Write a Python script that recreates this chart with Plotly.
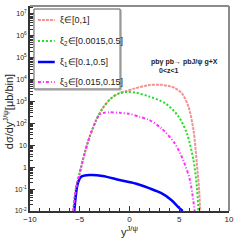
import plotly.graph_objects as go

# ---- data ----
x_all = [-5.65, -5.4, -5.0, -4.5, -4.0, -3.35, -2.7, -1.85, -1.0, -0.3, 0.6, 1.96, 3.0, 3.95, 4.6, 5.27, 5.93, 6.43, 6.77, 7.0, 7.1]
y_all = [0.01, 0.09, 0.55, 4.5, 25, 140, 490, 1400, 2400, 3000, 4000, 5600, 5800, 5100, 4000, 2350, 575, 50, 1.5, 0.09, 0.01]

x_xi2 = [-5.65, -5.4, -5.0, -4.5, -4.0, -3.35, -2.7, -1.85, -1.0, -0.2, 0.6, 1.96, 3.6, 4.95, 5.77, 6.43, 6.77, 6.93]
y_xi2 = [0.01, 0.09, 0.55, 4.5, 25, 140, 490, 1400, 2400, 2700, 2550, 1700, 830, 200, 35, 2.1, 0.13, 0.01]

x_xi1 = [-5.55, -5.2, -4.85, -4.0, -2.7, -1.0, 0.6, 1.96, 3.2, 4.2, 4.85, 5.35]
y_xi1 = [0.01, 0.18, 0.37, 0.44, 0.40, 0.26, 0.18, 0.11, 0.065, 0.032, 0.016, 0.01]

x_xi3 = [-5.65, -5.4, -5.0, -4.5, -4.0, -3.5, -3.1, -2.6, -2.0, -1.0, 0.0, 1.0, 1.96, 3.2, 4.55, 5.4, 6.07, 6.55]
y_xi3 = [0.01, 0.09, 0.55, 4.5, 25, 95, 220, 300, 320, 305, 275, 200, 145, 60, 12.3, 2.1, 0.26, 0.01]

legend_labels = ["ξ∈[0,1]", "ξ<sub>2</sub>∈[0.0015,0.5]", "ξ<sub>1</sub>∈[0.1,0.5]", "ξ<sub>3</sub>∈[0.015,0.15]"]
x_ticks = [-10, -5, 0, 5, 10]
y_tickvals = [1e-2, 1e-1, 1, 10, 1e2, 1e3, 1e4, 1e5, 1e6, 1e7]
y_ticktext = ["10<sup>-2</sup>", "10<sup>-1</sup>", "1", "10", "10<sup>2</sup>", "10<sup>3</sup>",
              "10<sup>4</sup>", "10<sup>5</sup>", "10<sup>6</sup>", "10<sup>7</sup>"]

styles = [
    dict(color="#f29292", width=2, dash="3px,1px"),
    dict(color="#22dd22", width=2, dash="2px,2px"),
    dict(color="#0000ff", width=2.5, dash="solid"),
    dict(color="#ff33ff", width=2, dash="3px,2px,1px,2px"),
]
series = [(x_all, y_all), (x_xi2, y_xi2), (x_xi1, y_xi1), (x_xi3, y_xi3)]

fig = go.Figure()
for (xs, ys), st, name in zip(series, styles, legend_labels):
    fig.add_trace(go.Scatter(x=xs, y=ys, mode="lines", name=name, line=dict(shape="spline", smoothing=0.8, **st),
                             showlegend=False))

W, H = 240, 240
ml, mr, mt, mb = 30, 9, 6, 29
pw, ph = W - ml - mr, H - mt - mb

fig.update_layout(
    width=W, height=H,
    margin=dict(l=ml, r=mr, t=mt, b=mb),
    paper_bgcolor="white", plot_bgcolor="white",
    font=dict(family="Liberation Sans, Arial", color="#222"),
    xaxis=dict(range=[-10, 10], tickvals=x_ticks, ticks="inside", ticklen=5, tickcolor="#333",
               tickfont=dict(size=8), showline=True, linecolor="#333", linewidth=1.5,
               showgrid=False, zeroline=False,
               minor=dict(ticks="inside", ticklen=3, dtick=1, tickcolor="#333", showgrid=False)),
    yaxis=dict(type="log", range=[-2, 7.36], tickvals=y_tickvals, ticktext=y_ticktext,
               ticks="inside", ticklen=5, tickcolor="#333", tickfont=dict(size=7),
               showline=True, linecolor="#333", linewidth=1.5, showgrid=False, zeroline=False,
               minor=dict(ticks="inside", ticklen=3, dtick="D1", tickcolor="#333", showgrid=False)),
)

# frame top/right (gray)
fig.add_shape(type="line", xref="paper", yref="paper", x0=0, x1=1, y0=1, y1=1, line=dict(color="#8c8c8c", width=2))
fig.add_shape(type="line", xref="paper", yref="paper", x0=1, x1=1, y0=0, y1=1, line=dict(color="#8c8c8c", width=2))

# legend box (manual, ROOT style)
def px(xp):
    return (xp - ml) / pw
def py(yp):
    return (H - mb - yp) / ph

fig.add_shape(type="rect", xref="paper", yref="paper", x0=px(34), x1=px(121), y0=py(89), y1=py(9),
              line=dict(color="#555", width=1), fillcolor="white")
fig.add_shape(type="line", xref="paper", yref="paper", x0=px(122), x1=px(122), y0=py(90), y1=py(10),
              line=dict(color="#999", width=1))
fig.add_shape(type="line", xref="paper", yref="paper", x0=px(35), x1=px(122), y0=py(90), y1=py(90),
              line=dict(color="#999", width=1))
rows = [20, 41, 62, 82]
for yy, st, name in zip(rows, styles, legend_labels):
    fig.add_shape(type="line", xref="paper", yref="paper", x0=px(38), x1=px(55), y0=py(yy), y1=py(yy),
                  line=dict(color=st["color"], width=st["width"], dash=st["dash"]))
    fig.add_annotation(xref="paper", yref="paper", x=px(58), y=py(yy), text=name, showarrow=False,
                       xanchor="left", yanchor="middle", font=dict(size=9, color="#222"))

# process annotation
fig.add_annotation(xref="paper", yref="paper", x=px(150), y=py(62), text="<b>pbγ pb→ pbJ/ψ g+X</b>",
                   showarrow=False, xanchor="left", yanchor="middle",
                   font=dict(size=7, family="Liberation Sans Narrow, Arial Narrow, Liberation Sans", color="#222"))
fig.add_annotation(xref="paper", yref="paper", x=px(158), y=py(71), text="<b>0<z<1</b>",
                   showarrow=False, xanchor="left", yanchor="middle",
                   font=dict(size=7, family="Liberation Sans Narrow, Arial Narrow, Liberation Sans", color="#222"))

# axis titles
fig.add_annotation(xref="paper", yref="paper", x=px(8), y=py(112), text="dσ/dy<sup>J/ψ</sup>[μb/bin]",
                   showarrow=False, textangle=-90, xanchor="center", yanchor="middle",
                   font=dict(size=11, color="#222"))
fig.add_annotation(xref="paper", yref="paper", x=px(130), y=py(240), text="y<sup>J/ψ</sup>",
                   showarrow=False, xanchor="center", yanchor="bottom", font=dict(size=11, color="#222"))

fig.write_html("out.html", config={"displayModeBar": False},
               post_script="document.body.style.margin='0';document.body.style.padding='0';")
